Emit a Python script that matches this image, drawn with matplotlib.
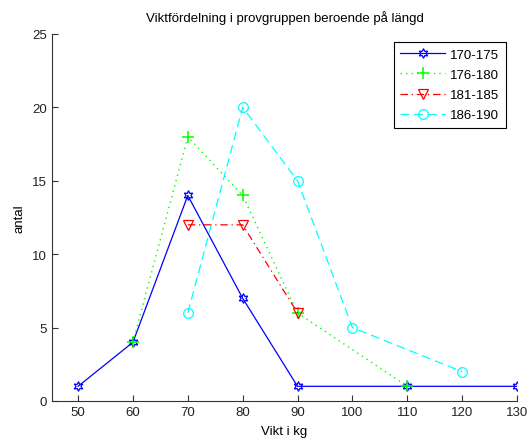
import matplotlib
matplotlib.use("Agg")
import matplotlib.pyplot as plt

plt.rcParams['font.family'] = ['Liberation Sans', 'DejaVu Sans']

x1 = [50, 60, 70, 80, 90, 110, 130]
y1 = [1, 4, 14, 7, 1, 1, 1]
x2 = [60, 70, 80, 90, 110]
y2 = [4, 18, 14, 6, 1]
x3 = [70, 80, 90]
y3 = [12, 12, 6]
x4 = [70, 80, 90, 100, 120]
y4 = [6, 20, 15, 5, 2]
labels = ['170-175', '176-180', '181-185', '186-190']
xticks = [50, 60, 70, 80, 90, 100, 110, 120, 130]
yticks = [0, 5, 10, 15, 20, 25]

fig = plt.figure(figsize=(5.28, 4.39), dpi=100)
ax = fig.add_axes([52/528, 37/439, 465/528, 367/439])

ax.plot(x1, y1, color='#0000ff', linestyle='-', linewidth=0.9, marker=(6, 1, 0), markersize=7,
        markerfacecolor='none', markeredgecolor='#0000ff', markeredgewidth=0.9, label=labels[0])
ax.plot(x2, y2, color='#00ff00', linestyle=(0, (1, 3)), linewidth=1.0, marker='+', markersize=9,
        markeredgewidth=1.1, label=labels[1])
ax.plot(x3, y3, color='#ff0000', linestyle=(0, (6, 3, 1, 3)), linewidth=0.9, marker='v', markersize=7,
        markerfacecolor='none', markeredgecolor='#ff0000', markeredgewidth=0.9, label=labels[2])
ax.plot(x4, y4, color='#00ffff', linestyle=(0, (7, 4)), linewidth=0.9, marker='o', markersize=7,
        markerfacecolor='none', markeredgecolor='#00ffff', markeredgewidth=0.9, label=labels[3])

ax.set_xlim(45.25, 130)
ax.set_ylim(0, 25)
ax.set_xticks(xticks)
ax.set_yticks(yticks)
ax.spines['top'].set_visible(False)
ax.spines['right'].set_visible(False)
for s in ['left', 'bottom']:
    ax.spines[s].set_color('#333333')
    ax.spines[s].set_linewidth(0.8)
ax.tick_params(direction='in', length=4, width=0.8, colors='#333333', labelsize=9.5, labelcolor='#222222')

ax.set_title('Viktfördelning i provgruppen beroende på längd', fontsize=9.5, pad=9)
ax.set_xlabel('Vikt i kg', fontsize=9.5, labelpad=5)
ax.set_ylabel('antal', fontsize=9.5, labelpad=5)

leg = ax.legend(loc='upper right', bbox_to_anchor=(506/528, (439 - 43)/439), bbox_transform=fig.transFigure,
                borderaxespad=0, fancybox=False, framealpha=1, edgecolor='#000000', fontsize=9.5,
                handlelength=3.4, borderpad=0.5, labelspacing=0.6, handletextpad=0.4)
leg.get_frame().set_linewidth(0.8)

fig.savefig('out.png', dpi=100)
